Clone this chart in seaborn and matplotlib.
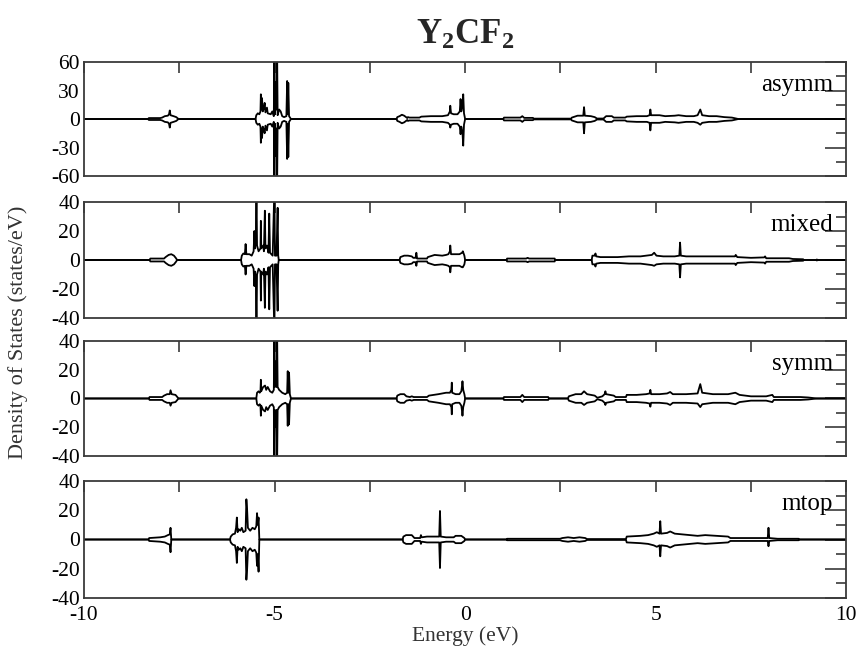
import numpy as np
import pandas as pd
import matplotlib
matplotlib.use("Agg")
import matplotlib.pyplot as plt
import seaborn as sns
from matplotlib.ticker import MultipleLocator

# ---------------- data ----------------
panel_names = ["asymm", "mixed", "symm", "mtop"]

asymm_e = [-10.0, -8.32, -8.30, -8.00, -7.95, -7.88, -7.80, -7.77, -7.75, -7.73, -7.65, -7.58, -7.52,
           -5.50, -5.48, -5.44, -5.40, -5.37, -5.36, -5.35, -5.33, -5.31, -5.28, -5.26, -5.24, -5.20, -5.18,
           -5.10, -5.06, -5.02, -5.005, -4.99, -4.97, -4.955, -4.945, -4.935, -4.92, -4.88, -4.84, -4.80,
           -4.75, -4.69, -4.67, -4.655, -4.64, -4.62, -4.57,
           -1.80, -1.78, -1.72, -1.66, -1.60, -1.55, -1.52, -1.50, -1.46, -1.40, -1.20, -1.15, -0.90, -0.60,
           -0.45, -0.40, -0.39, -0.37, -0.30, -0.20, -0.14, -0.12, -0.10, -0.07, -0.05, -0.03, 0.0,
           1.00, 1.02, 1.45, 1.50, 1.55, 1.78, 1.80, 2.78, 2.80, 2.95, 3.10, 3.12, 3.14, 3.30, 3.40, 3.46,
           3.63, 3.70, 3.85, 3.90, 4.20, 4.24, 4.50, 4.77, 4.84, 4.86, 4.88, 5.10, 5.25, 5.50, 5.60, 5.80,
           6.00, 6.10, 6.17, 6.22, 6.40, 6.60, 6.80, 7.00, 7.17, 10.0]
asymm_up = [0, 0, 1, 1, 1.5, 3, 3.5, 5, 9, 4, 3, 2, 0,
            0, 4, 6, 5, 8, 26, 10, 22, 8, 12, 17, 7, 12, 6,
            5, 8, 3, 80, 5, 20, 39, 10, 80, 4, 10, 8, 3,
            2, 3, 40, 5, 38, 3, 0,
            0, 2, 3, 4.5, 3.5, 2, 1, 2, 1.5, 1.5, 1.5, 2.5, 3, 3,
            4, 8, 14, 6, 5, 5, 8, 21, 8, 14, 26, 6, 0,
            0, 1.5, 1.5, 3, 1.2, 1.2, 0.4, 0.4, 1.5, 3.5, 3.5, 12.5, 3.5, 3, 2, 0.5,
            0.5, 3, 3, 1.5, 1.5, 2.5, 3, 3, 4, 10, 4, 4, 3, 3.5, 4, 3,
            3, 4, 10, 4, 3, 3, 2, 1.5, 0, 0]
asymm_dn = [0, 0, 1, 1, 1.5, 3, 3.5, 5, 9, 4, 3, 2, 0,
            0, 4, 6, 5, 8, 25, 10, 20, 8, 12, 15, 7, 12, 6,
            5, 8, 3, 80, 5, 20, 39, 10, 80, 4, 10, 8, 3,
            2, 3, 42, 5, 40, 3, 0,
            0, 2, 3, 4.5, 3.5, 2, 1, 2, 1.5, 1.5, 1.5, 2.5, 3, 3,
            4, 6, 9, 6, 5, 5, 8, 16, 8, 14, 28, 6, 0,
            0, 1.5, 1.5, 3, 1.2, 1.2, 0.4, 0.4, 1.5, 3.5, 3.5, 15, 3.5, 3, 2, 0.5,
            0.5, 3, 3, 1.5, 1.5, 2.5, 3, 3, 4, 12, 4, 4, 3, 3.5, 4, 3,
            3, 4, 6, 4, 3, 3, 2, 1.5, 0, 0]

mixed_e = [-10.0, -8.28, -8.26, -7.90, -7.86, -7.78, -7.71, -7.64, -7.58, -7.56,
           -5.88, -5.86, -5.82, -5.78, -5.76, -5.74, -5.66, -5.60, -5.55, -5.53, -5.51, -5.49, -5.475, -5.46,
           -5.42, -5.37, -5.36, -5.35, -5.30, -5.28, -5.255, -5.24, -5.20, -5.16, -5.14, -5.12, -5.05, -5.005,
           -4.99, -4.95, -4.92, -4.905, -4.89,
           -1.72, -1.70, -1.60, -1.50, -1.40, -1.36, -1.30, -1.28, -1.26, -1.00, -0.98, -0.80, -0.60, -0.50,
           -0.44, -0.40, -0.39, -0.37, -0.25, -0.15, -0.08, -0.06, -0.02, 0.0,
           1.09, 1.10, 1.60, 1.64, 1.68, 2.35, 2.36, 3.32, 3.34, 3.40, 3.42, 3.44, 3.55, 3.80, 4.00, 4.30,
           4.60, 4.90, 4.96, 5.02, 5.20, 5.50, 5.62, 5.64, 5.66, 5.80, 6.20, 6.50, 6.90, 7.08, 7.10, 7.14,
           7.50, 7.85, 7.87, 7.90, 8.50, 8.60, 8.87, 8.88, 9.22, 9.23, 9.24, 10.0]
mixed_up = [0, 0, 1, 1, 2, 3.5, 4, 3, 1, 0,
            0, 3, 4.5, 4, 11, 4, 4, 3, 6, 20, 8, 19, 50, 10,
            6, 8, 27, 8, 10, 6, 34, 8, 10, 5, 32, 5, 3, 50,
            3, 3, 36, 3, 0,
            0, 2, 3, 3, 2.5, 1.5, 1.5, 5, 1, 1, 2, 3.5, 3, 3.5,
            4, 6, 10, 4, 4, 4, 5, 6, 3, 0,
            0, 1, 1, 1.5, 1, 1, 0, 0, 3, 3, 4.5, 2.5, 2, 2, 2, 2.5,
            2.5, 3.5, 5, 3, 2.5, 2.5, 3, 12, 3, 2.5, 2.5, 2.5, 2.5, 2.5, 3.5, 2,
            1.5, 1.8, 2.5, 1.2, 1.2, 0.7, 0.5, 0, 0, 0.4, 0, 0]
mixed_dn = [0, 0, 1, 1, 2, 3.5, 4, 3, 1, 0,
            0, 3, 4.5, 4, 10, 4, 4, 3, 6, 18, 8, 18, 50, 10,
            6, 8, 28, 8, 10, 6, 33, 8, 10, 5, 34, 5, 3, 50,
            3, 3, 35, 3, 0,
            0, 2, 3, 3, 2.5, 1.5, 1.5, 4, 1, 1, 2, 3.5, 3, 3.5,
            4, 5, 8.5, 4, 4, 4, 5, 5, 3, 0,
            0, 1, 1, 1.5, 1, 1, 0, 0, 3, 3, 4.5, 2.5, 2, 2, 2, 2.5,
            2.5, 3.5, 4, 3, 2.5, 2.5, 3, 12, 3, 2.5, 2.5, 2.5, 2.5, 2.5, 3.5, 2,
            1.5, 1.8, 2.5, 1.2, 1.2, 0.7, 0.5, 0, 0, 0.4, 0, 0]

symm_e = [-10.0, -8.30, -8.28, -7.95, -7.90, -7.82, -7.75, -7.73, -7.70, -7.60, -7.52,
          -5.48, -5.46, -5.42, -5.39, -5.37, -5.36, -5.35, -5.30, -5.25, -5.22, -5.18, -5.12, -5.06, -5.02,
          -5.005, -4.99, -4.97, -4.955, -4.945, -4.935, -4.92, -4.88, -4.80, -4.72, -4.67, -4.655, -4.64,
          -4.62, -4.60, -4.57,
          -1.80, -1.78, -1.70, -1.60, -1.54, -1.45, -1.40, -1.35, -1.00, -0.95, -0.70, -0.50, -0.40, -0.36,
          -0.35, -0.34, -0.25, -0.15, -0.10, -0.08, -0.07, -0.05, -0.02, 0.0,
          1.00, 1.02, 1.45, 1.50, 1.55, 2.18, 2.20, 2.70, 2.72, 2.90, 3.05, 3.12, 3.20, 3.40, 3.47, 3.60,
          3.66, 3.68, 3.70, 3.90, 3.95, 4.22, 4.24, 4.50, 4.75, 4.84, 4.86, 4.88, 5.10, 5.30, 5.38, 5.45,
          5.80, 6.10, 6.17, 6.22, 6.50, 6.90, 7.09, 7.20, 7.50, 7.90, 8.06, 8.10, 8.80, 9.00, 9.23, 10.0]
symm_up = [0, 0, 1, 1, 2, 3, 3, 5.7, 3, 2.5, 0,
           0, 4, 5, 4, 5, 13, 5, 8, 9, 6, 8, 5, 4, 6,
           50, 8, 20, 26, 8, 50, 8, 6, 4, 3, 4, 19, 4,
           18, 3, 0,
           0, 2, 3, 3, 1.5, 1, 1.5, 1, 1, 2, 3, 4, 4, 6,
           11, 4, 3, 3, 5, 9, 12, 6, 3, 0,
           0, 1, 1, 2.5, 1, 1, 0, 0, 1.5, 3, 3, 5, 3, 2, 0.5, 1.5,
           3, 5, 3, 2, 1, 1, 2.5, 2.5, 3, 3.5, 6, 3, 3, 3.5, 4.5, 3,
           3, 3.5, 10, 4, 3, 3, 4, 2.5, 1.5, 1.5, 2.5, 1, 1, 0.7, 0, 0]
symm_dn = [0, 0, 1, 1, 2, 3, 3, 5, 3, 2.5, 0,
           0, 4, 5, 4, 5, 12, 5, 8, 9, 6, 8, 5, 4, 6,
           50, 8, 18, 20, 8, 50, 8, 6, 4, 3, 4, 19, 4,
           18, 3, 0,
           0, 2, 3, 3, 1.5, 1, 1.5, 1, 1, 2, 3, 4, 4, 6,
           11, 4, 3, 3, 5, 9, 12, 6, 3, 0,
           0, 1, 1, 2.5, 1, 1, 0, 0, 1.5, 3, 3, 4.5, 3, 2, 0.5, 1.5,
           3, 4.5, 3, 2, 1, 1, 2.5, 2.5, 3, 3.5, 5.7, 3, 3, 3.5, 4.5, 3,
           3, 3.5, 6, 4, 3, 3, 4, 2.5, 1.5, 1.5, 2.5, 1, 1, 0.7, 0, 0]

mtop_e = [-10.0, -8.31, -8.29, -8.00, -7.88, -7.80, -7.75, -7.73, -7.71,
          -6.17, -6.15, -6.10, -6.04, -6.01, -5.99, -5.97, -5.94, -5.90, -5.86, -5.82, -5.76, -5.74, -5.72,
          -5.70, -5.64, -5.58, -5.52, -5.48, -5.46, -5.44, -5.42, -5.40,
          -1.64, -1.62, -1.55, -1.40, -1.33, -1.18, -1.16, -1.14, -1.00, -0.80, -0.68, -0.66, -0.64, -0.50,
          -0.30, -0.25, -0.10, -0.02, 0.0,
          1.09, 1.10, 2.49, 2.55, 2.70, 2.85, 3.00, 3.15, 3.20, 4.22, 4.24, 4.60, 4.80, 4.95, 5.03, 5.10,
          5.12, 5.14, 5.30, 5.38, 5.50, 5.70, 5.90, 6.10, 6.30, 6.60, 6.90, 6.96, 7.90, 7.94, 7.96, 7.98,
          8.20, 8.75, 8.76, 10.0]
mtop_up = [0, 0, 1, 1.5, 2, 3, 3.5, 8, 0,
           0, 2, 3.5, 4, 8, 15, 5, 7, 6, 8, 5, 6, 27.5, 20,
           8, 6, 8, 7, 9, 18, 10, 15, 0,
           0, 2, 3, 3, 1, 1, 3, 1.5, 2, 2, 2, 19.5, 2, 1.5,
           1.5, 2.5, 2.5, 1, 0,
           0, 0.5, 0.5, 1, 1.5, 1, 1.5, 1, 0.3, 0.3, 2, 2.5, 3, 4, 5, 4,
           12.5, 4, 4.5, 5.5, 4, 3.5, 3, 2.5, 3, 2.5, 2, 1, 1, 1, 8, 1,
           0.5, 0.5, 0, 0]
mtop_dn = [0, 0, 1, 1.5, 2, 3, 3.5, 8.7, 0,
           0, 2, 3.5, 4, 8, 16, 5, 7, 6, 8, 5, 6, 27.5, 20,
           8, 6, 8, 7, 9, 18, 10, 22, 0,
           0, 2, 3, 3, 1, 1, 3, 1.5, 2, 2, 2, 19.5, 2, 1.5,
           1.5, 2.5, 2.5, 1, 0,
           0, 0.5, 0.5, 1, 1.5, 1, 1.5, 1, 0.3, 0.3, 2, 2.5, 3, 4, 5, 4,
           11.5, 4, 4.5, 5.5, 4, 3.5, 3, 2.5, 3, 2.5, 2, 1, 1, 1, 4.6, 1,
           0.5, 0.5, 0, 0]

y_limits = [60, 40, 40, 40]
y_major = [30, 20, 20, 20]
y_minor = [15, 10, 10, 10]
x_ticks = [-10, -5, 0, 5, 10]

title_text = r"$\mathbf{Y_2CF_2}$"
x_label = "Energy (eV)"
y_label = "Density of States (states/eV)"

# ---------------- style ----------------
sns.set_theme(style="white")
plt.rcParams["font.family"] = ["Liberation Serif", "DejaVu Serif"]
plt.rcParams["mathtext.fontset"] = "custom"
plt.rcParams["mathtext.rm"] = "Liberation Serif"
plt.rcParams["mathtext.bf"] = "Liberation Serif:bold"
plt.rcParams["axes.unicode_minus"] = False

frame_col = "#3a3a3a"
fig = plt.figure(figsize=(8.6, 6.5), dpi=100)

left, width = 0.0977, 0.8863
boxes = [(0.7292, 0.1754), (0.5108, 0.1784), (0.2985, 0.1769), (0.0800, 0.1800)]

series = [(asymm_e, asymm_up, asymm_dn), (mixed_e, mixed_up, mixed_dn),
          (symm_e, symm_up, symm_dn), (mtop_e, mtop_up, mtop_dn)]

for i, (name, (e, up, dn), (b, h)) in enumerate(zip(panel_names, series, boxes)):
    ax = fig.add_axes([left, b, width, h])
    df = pd.DataFrame({"E": e, "up": up, "dn": -np.asarray(dn, dtype=float)})
    sns.lineplot(data=df, x="E", y="up", ax=ax, color="black", lw=1.3,
                 estimator=None, sort=False, legend=False)
    sns.lineplot(data=df, x="E", y="dn", ax=ax, color="black", lw=1.3,
                 estimator=None, sort=False, legend=False)
    lim = y_limits[i]
    ax.set_xlim(-10, 10)
    ax.set_ylim(-lim, lim)
    ax.set_xlabel("")
    ax.set_ylabel("")
    ax.xaxis.set_major_locator(MultipleLocator(5))
    ax.xaxis.set_minor_locator(MultipleLocator(2.5))
    ax.yaxis.set_major_locator(MultipleLocator(y_major[i]))
    ax.yaxis.set_minor_locator(MultipleLocator(y_minor[i]))
    ax.tick_params(which="both", direction="in", top=True, right=True,
                   color=frame_col, width=1.2, labelsize=15.5, labelcolor="black")
    ax.tick_params(axis="x", which="both", length=8)
    ax.tick_params(axis="x", which="major", pad=6)
    ax.tick_params(axis="y", which="major", length=15)
    ax.tick_params(axis="y", which="minor", length=7)
    ax.tick_params(axis="y", pad=3)
    if i < 3:
        ax.tick_params(axis="x", labelbottom=False)
    else:
        ax.set_xticks(x_ticks)
        ax.set_xticklabels([str(t) for t in x_ticks])
    for sp in ax.spines.values():
        sp.set_color(frame_col)
        sp.set_linewidth(1.3)
    ax.text(0.983, 0.80, name, transform=ax.transAxes, ha="right", va="center",
            fontsize=18, color="black")

fig.text(0.541, 0.945, title_text, ha="center", va="center", fontsize=25)
fig.text(0.541, 0.021, x_label, ha="center", va="center", fontsize=15.5, color="#333333")
fig.text(0.021, 0.489, y_label, ha="center", va="center", rotation=90, fontsize=16, color="#333333")

fig.savefig("out.png", dpi=100)
